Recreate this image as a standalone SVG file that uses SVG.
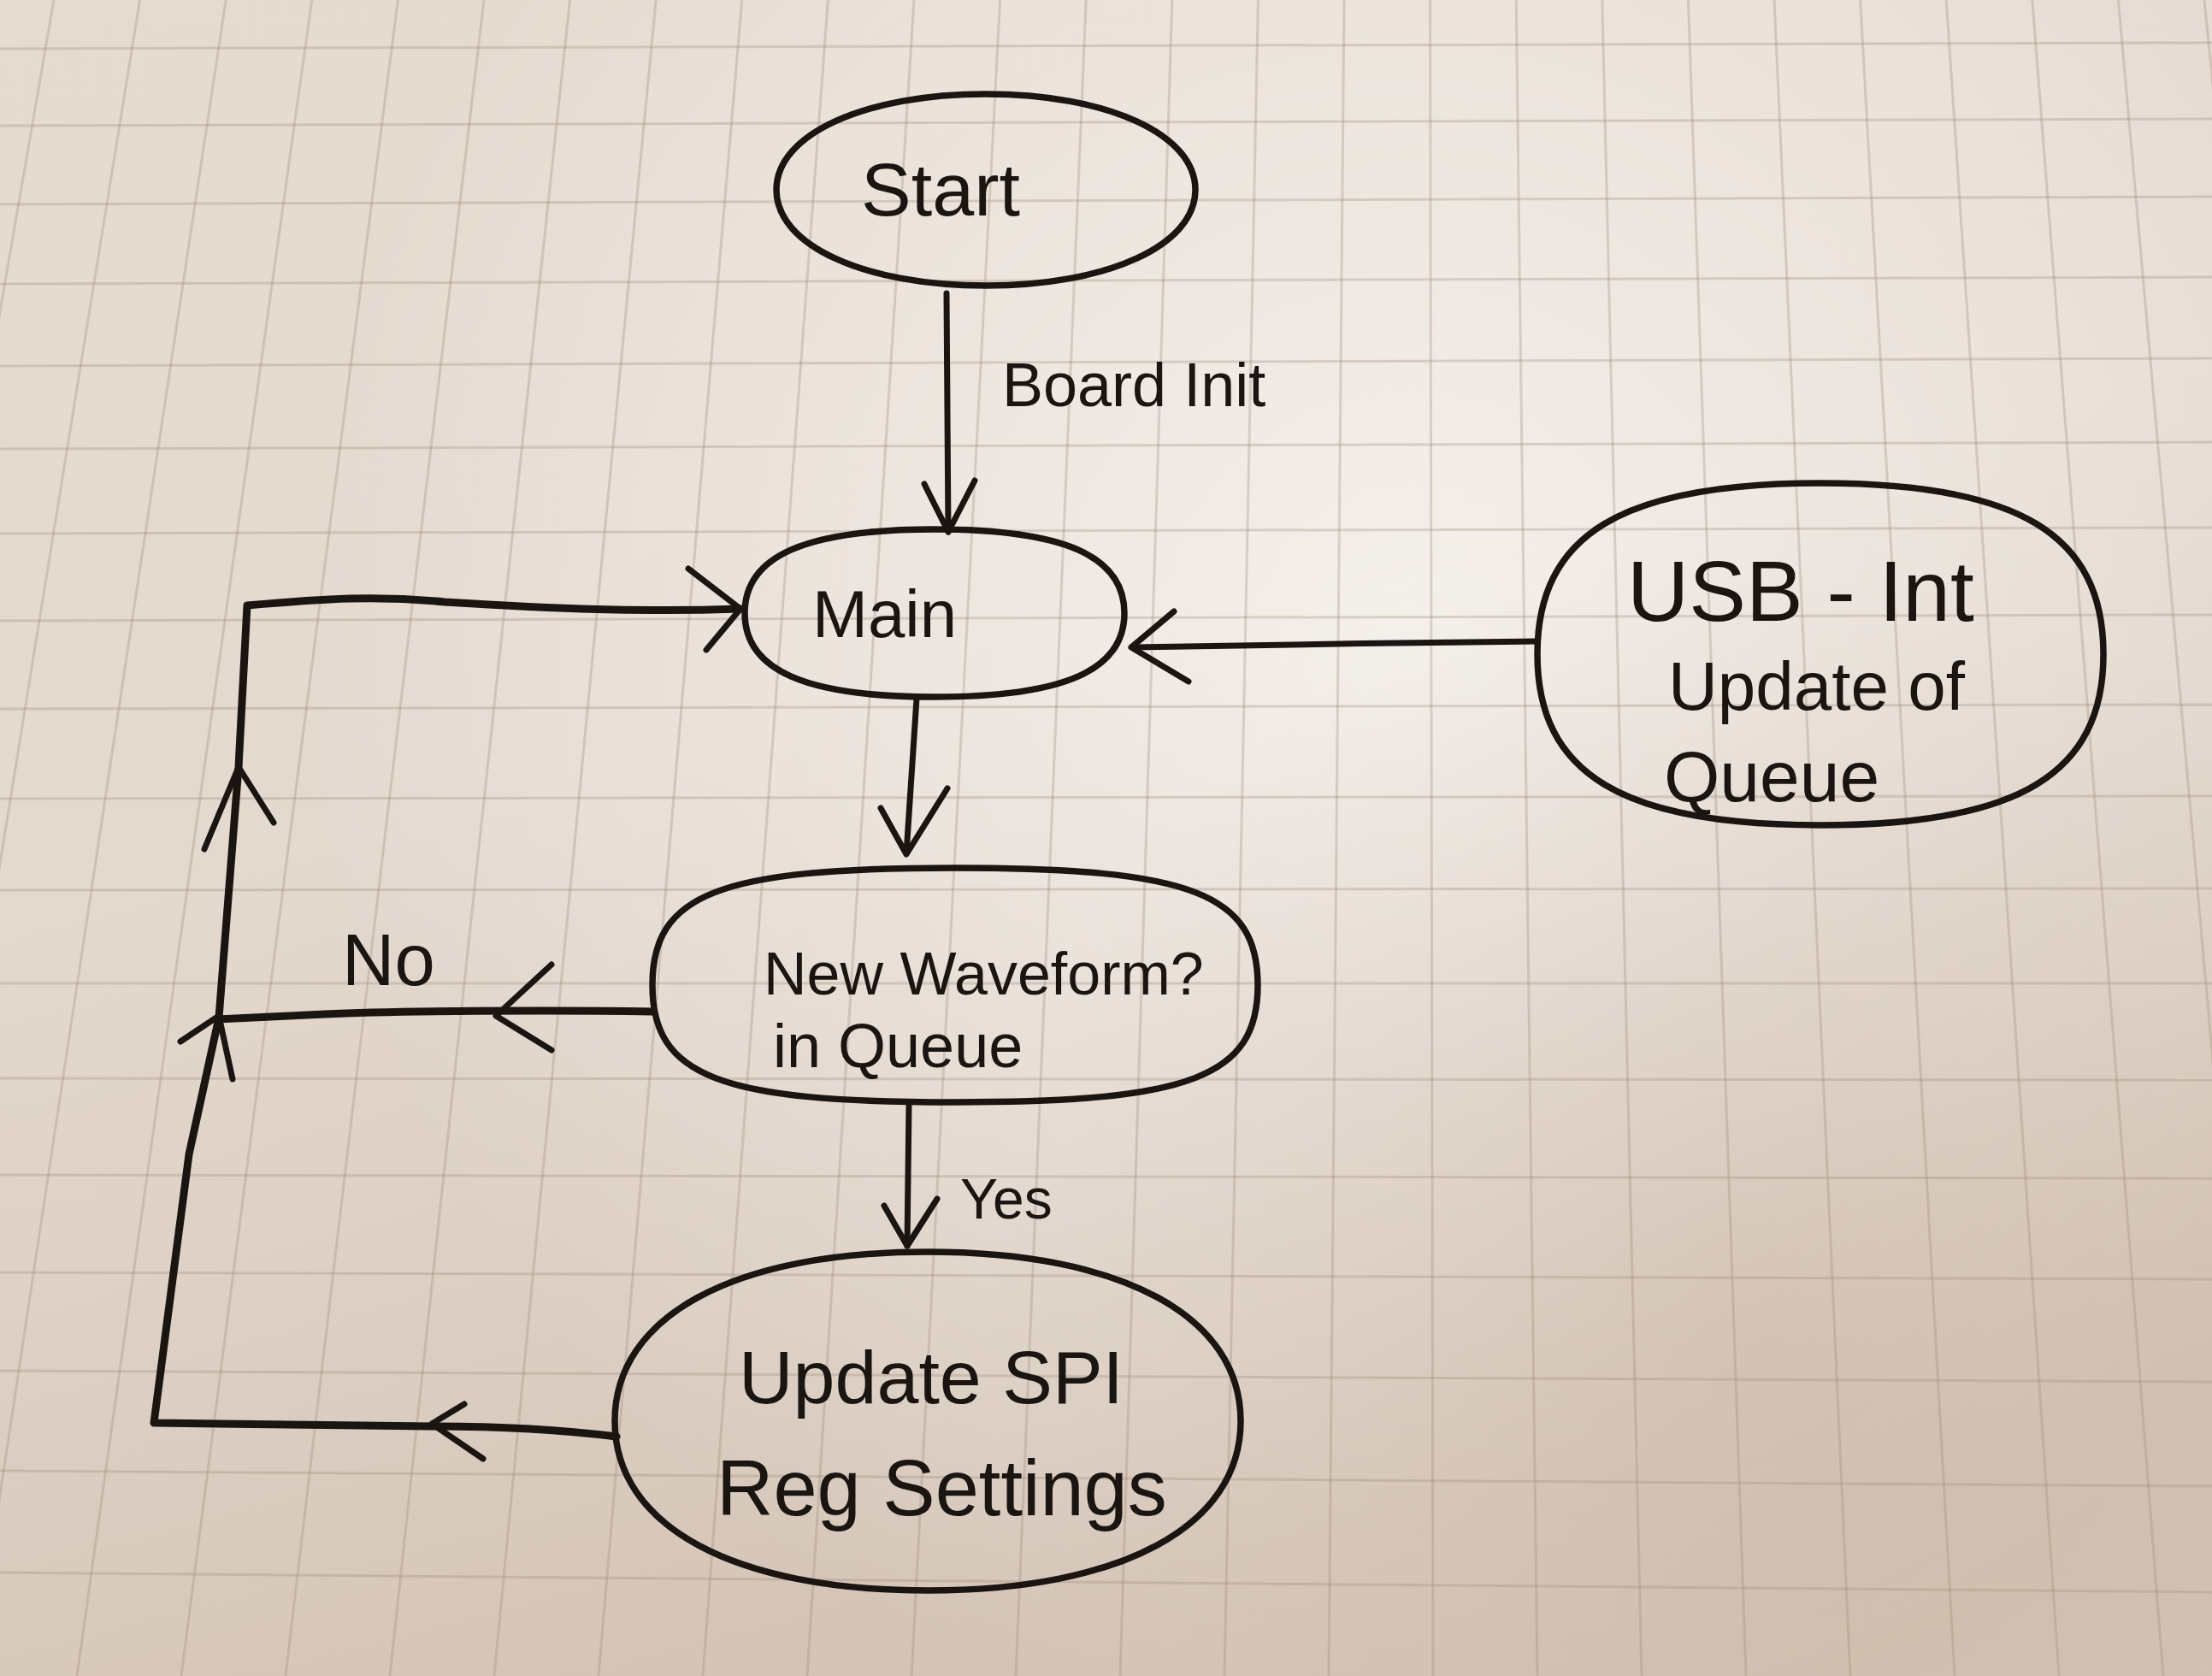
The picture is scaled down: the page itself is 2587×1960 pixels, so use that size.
<svg xmlns="http://www.w3.org/2000/svg" width="2587" height="1960" viewBox="0 0 2587 1960">
  <defs>
    <linearGradient id="paper" x1="0" y1="0" x2="0.35" y2="1">
      <stop offset="0" stop-color="#e6dbd0"/>
      <stop offset="0.5" stop-color="#e4d9cf"/>
      <stop offset="1" stop-color="#d4c4b6"/>
    </linearGradient>
    <radialGradient id="light" cx="1650" cy="750" r="1300" gradientUnits="userSpaceOnUse">
      <stop offset="0" stop-color="#ffffff" stop-opacity="0.6"/>
      <stop offset="0.55" stop-color="#ffffff" stop-opacity="0.28"/>
      <stop offset="1" stop-color="#ffffff" stop-opacity="0"/>
    </radialGradient>
    <radialGradient id="shade" cx="2050" cy="1550" r="900" gradientUnits="userSpaceOnUse">
      <stop offset="0" stop-color="#b89c84" stop-opacity="0.25"/>
      <stop offset="1" stop-color="#b89c84" stop-opacity="0"/>
    </radialGradient>
    <style>
      .grid { stroke: #a08b7a; stroke-opacity: 0.32; stroke-width: 3; fill: none; }
      .ink { stroke: #1b1512; stroke-width: 7; fill: none; stroke-linecap: round; stroke-linejoin: round; }
      .thick { stroke-width: 9; }
      .node { stroke: #1b1512; stroke-width: 7.5; fill: none; stroke-linejoin: round; }
      .txt { font-family: "Liberation Sans", Arial, sans-serif; fill: #1b1512; }
    </style>
  </defs>

  <!-- paper background -->
  <g id="paper-bg">
    <rect x="0" y="0" width="2587" height="1960" fill="url(#paper)"/>
    <rect x="0" y="0" width="2587" height="1960" fill="url(#light)"/>
    <rect x="0" y="0" width="2587" height="1960" fill="url(#shade)"/>
  </g>

  <!-- grid lines of the paper -->
  <g id="grid" class="grid">
    <line x1="63" y1="0" x2="-276" y2="1960"/>
    <line x1="163.6" y1="0" x2="-154" y2="1960"/>
    <line x1="264.2" y1="0" x2="-32" y2="1960"/>
    <line x1="364.8" y1="0" x2="90" y2="1960"/>
    <line x1="465.4" y1="0" x2="212" y2="1960"/>
    <line x1="566" y1="0" x2="334" y2="1960"/>
    <line x1="666.6" y1="0" x2="456" y2="1960"/>
    <line x1="767.2" y1="0" x2="578" y2="1960"/>
    <line x1="867.8" y1="0" x2="700" y2="1960"/>
    <line x1="968.4" y1="0" x2="822" y2="1960"/>
    <line x1="1069" y1="0" x2="944" y2="1960"/>
    <line x1="1169.6" y1="0" x2="1066" y2="1960"/>
    <line x1="1270.2" y1="0" x2="1188" y2="1960"/>
    <line x1="1370.8" y1="0" x2="1310" y2="1960"/>
    <line x1="1471.4" y1="0" x2="1432" y2="1960"/>
    <line x1="1572" y1="0" x2="1554" y2="1960"/>
    <line x1="1672.6" y1="0" x2="1676" y2="1960"/>
    <line x1="1773.2" y1="0" x2="1798" y2="1960"/>
    <line x1="1873.8" y1="0" x2="1920" y2="1960"/>
    <line x1="1974.4" y1="0" x2="2042" y2="1960"/>
    <line x1="2075" y1="0" x2="2164" y2="1960"/>
    <line x1="2175.6" y1="0" x2="2286" y2="1960"/>
    <line x1="2276.2" y1="0" x2="2408" y2="1960"/>
    <line x1="2376.8" y1="0" x2="2530" y2="1960"/>
    <line x1="2477.4" y1="0" x2="2652" y2="1960"/>
    <line x1="2578" y1="0" x2="2774" y2="1960"/>
    <line x1="0" y1="57" x2="2587" y2="50"/>
    <line x1="0" y1="147" x2="2587" y2="139"/>
    <line x1="0" y1="239" x2="2587" y2="230"/>
    <line x1="0" y1="332" x2="2587" y2="324"/>
    <line x1="0" y1="428" x2="2587" y2="419"/>
    <line x1="0" y1="525" x2="2587" y2="517"/>
    <line x1="0" y1="624" x2="2587" y2="617"/>
    <line x1="0" y1="726" x2="2587" y2="719"/>
    <line x1="0" y1="829" x2="2587" y2="824"/>
    <line x1="0" y1="934" x2="2587" y2="931"/>
    <line x1="0" y1="1041" x2="2587" y2="1039"/>
    <line x1="0" y1="1150" x2="2587" y2="1150"/>
    <line x1="0" y1="1261" x2="2587" y2="1263"/>
    <line x1="0" y1="1374" x2="2587" y2="1378"/>
    <line x1="0" y1="1488" x2="2587" y2="1496"/>
    <line x1="0" y1="1603" x2="2587" y2="1616"/>
    <line x1="0" y1="1720" x2="2587" y2="1738"/>
    <line x1="0" y1="1839" x2="2587" y2="1862"/>
  </g>

  <!-- connectors -->
  <g id="connectors">
    <!-- Start -> Main -->
    <path class="ink" d="M 1107,343 L 1109,622"/>
    <path class="ink" d="M 1081,566 L 1109,622 L 1140,562"/>
    <!-- USB-Int -> Main -->
    <path class="ink" d="M 1795,750 C 1650,752 1450,754 1325,757"/>
    <path class="ink" d="M 1373,715 L 1323,757 L 1390,797"/>
    <!-- Main -> New Waveform -->
    <path class="ink" d="M 1072,817 L 1060,998"/>
    <path class="ink" d="M 1030,945 L 1060,999 L 1108,922"/>
    <!-- New Waveform -> No -->
    <path class="ink thick" d="M 763,1183 C 650,1181 460,1182 380,1186 L 253,1192"/>
    <path class="ink" d="M 645,1128 L 580,1188 L 645,1228"/>
    <!-- New Waveform -> Update SPI (Yes) -->
    <path class="ink" d="M 1063,1292 L 1061,1457"/>
    <path class="ink" d="M 1034,1410 L 1061,1457 L 1096,1402"/>
    <!-- Update SPI -> back to Main (loop) -->
    <path class="ink thick" d="M 721,1680 C 640,1670 560,1668 505,1668 L 180,1664 L 221,1350 L 256,1190 L 279,897 L 289,708 C 380,700 440,696 520,704 C 650,712 750,716 866,712"/>
    <path class="ink" d="M 543,1642 L 505,1665 L 565,1706"/>
    <path class="ink" d="M 211,1218 L 256,1188 L 272,1262"/>
    <path class="ink" d="M 239,993 L 279,897 L 320,962"/>
    <path class="ink" d="M 805,665 L 866,712 L 826,760"/>
    <!-- connector labels -->
    <text class="txt" x="1172" y="475" font-size="72">Board Init</text>
    <text class="txt" x="400" y="1152" font-size="85">No</text>
    <text class="txt" x="1123" y="1425" font-size="66">Yes</text>
  </g>

  <!-- nodes -->
  <g id="node-start">
    <path class="node" d="M 908,222 C 908,157 1011,110 1153,110 C 1295,110 1398,157 1398,222 C 1398,287 1295,334 1153,334 C 1011,334 908,287 908,222 Z"/>
    <text class="txt" x="1100" y="252" font-size="88" text-anchor="middle">Start</text>
  </g>

  <g id="node-main">
    <path class="node" d="M 871,717 C 871,650 942,619 1093,619 C 1244,619 1315,650 1315,717 C 1315,784 1244,815 1093,815 C 942,815 871,784 871,717 Z"/>
    <text class="txt" x="950" y="745" font-size="78">Main</text>
  </g>

  <g id="node-usb">
    <path class="node" d="M 1798,765 C 1798,625 1897,565 2129,565 C 2361,565 2460,625 2460,765 C 2460,905 2361,965 2129,965 C 1897,965 1798,905 1798,765 Z"/>
    <text class="txt" x="1903" y="726" font-size="100">USB - Int</text>
    <text class="txt" x="1951" y="830" font-size="80">Update of</text>
    <text class="txt" x="1946" y="937" font-size="84">Queue</text>
  </g>

  <g id="node-newwave">
    <path class="node" d="M 763,1152 C 763,1045 841,1015 1117,1015 C 1393,1015 1471,1045 1471,1152 C 1471,1259 1393,1289 1117,1289 C 841,1289 763,1259 763,1152 Z"/>
    <text class="txt" x="893" y="1163" font-size="70">New Waveform?</text>
    <text class="txt" x="904" y="1248" font-size="72">in Queue</text>
  </g>

  <g id="node-spi">
    <path class="node" d="M 719,1662 C 719,1539 858,1464 1085,1464 C 1312,1464 1451,1539 1451,1662 C 1451,1785 1312,1860 1085,1860 C 858,1860 719,1785 719,1662 Z"/>
    <text class="txt" x="864" y="1641" font-size="88">Update SPI</text>
    <text class="txt" x="838" y="1772" font-size="92">Reg Settings</text>
  </g>
</svg>
